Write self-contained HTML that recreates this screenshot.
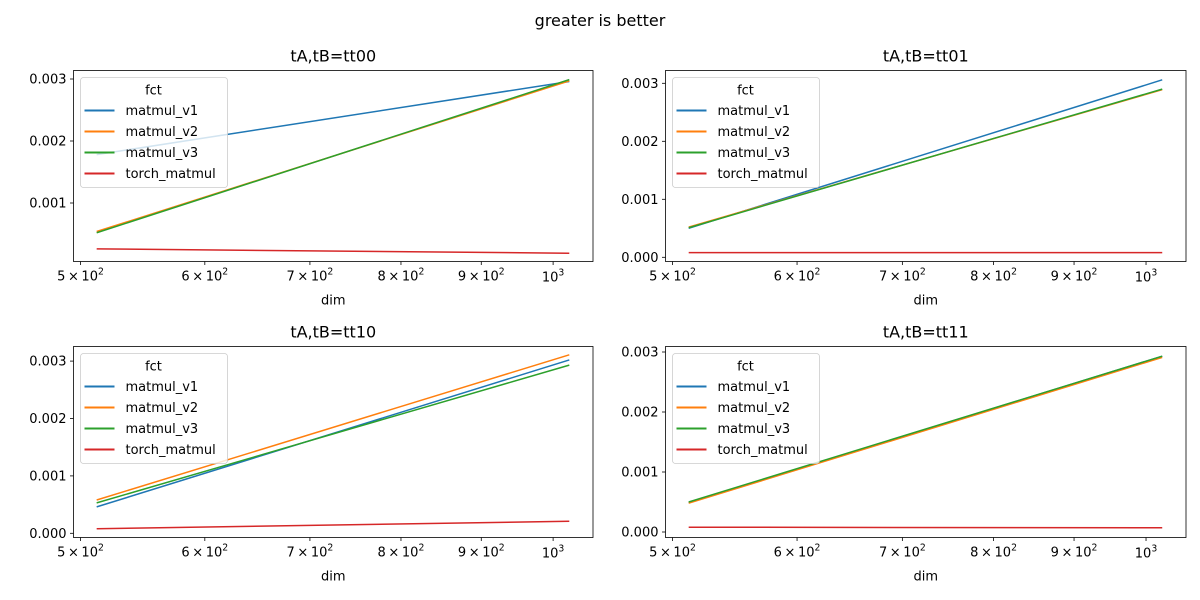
<!DOCTYPE html>
<html><head><meta charset="utf-8"><style>
html,body{margin:0;padding:0;background:#fff;}
svg{display:block;font-family:"DejaVu Sans","Liberation Sans",sans-serif;}
</style></head><body>
<svg id="s" width="1200" height="600" viewBox="0 0 1200 600" xmlns="http://www.w3.org/2000/svg">
<rect width="1200" height="600" fill="#fff"/>
<text x="600" y="26" font-size="16" text-anchor="middle">greater is better</text>
</svg>
<script>
const S=document.getElementById('s');
const C={v1:'#1f77b4',v2:'#ff7f0e',v3:'#2ca02c',t:'#d62728'};
function add(h){S.insertAdjacentHTML('beforeend',h);}
const panels=[
 {L:73.5,R:593,T:70.5,B:261.5,y0:265,py:62,title:'tA,tB=tt00',ticks:[1,2,3],
  d:{v1:[1.78,2.96],v2:[0.54,2.97],v3:[0.52,2.99],t:[0.26,0.19]}},
 {L:665.5,R:1186,T:70.5,B:261.5,y0:257.3,py:58,title:'tA,tB=tt01',ticks:[0,1,2,3],
  d:{v1:[0.50,3.06],v2:[0.52,2.89],v3:[0.51,2.90],t:[0.08,0.08]}},
 {L:73.5,R:593,T:346.5,B:537.5,y0:533.3,py:57.4,title:'tA,tB=tt10',ticks:[0,1,2,3],
  d:{v1:[0.46,3.02],v2:[0.58,3.11],v3:[0.53,2.93],t:[0.08,0.21]}},
 {L:665.5,R:1186,T:346.5,B:537.5,y0:532,py:60,title:'tA,tB=tt11',ticks:[0,1,2,3],
  d:{v1:[0.49,2.93],v2:[0.48,2.91],v3:[0.50,2.93],t:[0.08,0.07]}}
];
panels.forEach(p=>{
 const x500=p.L+7; const ppd=(p.R-p.L)*1570/519.5;
 const X=v=>x500+ppd*Math.log10(v/500);
 const Y=v=>p.y0-p.py*v;
 const cx=(p.L+p.R)/2;
 add(`<text x="${cx}" y="${p.T-9}" font-size="16" text-anchor="middle">${p.title}</text>`);
 for(const k of ['v1','v2','v3','t']){
  const [a,b]=p.d[k];
  add(`<line x1="${X(512)}" y1="${Y(a)}" x2="${X(1024)}" y2="${Y(b)}" stroke="${C[k]}" stroke-width="1.5"/>`);
 }
 add(`<rect x="${p.L}" y="${p.T}" width="${p.R-p.L}" height="${p.B-p.T}" fill="none" stroke="#000" stroke-width="0.8"/>`);
 p.ticks.forEach(t=>{const y=Y(t);
  add(`<line x1="${p.L-3.5}" y1="${y}" x2="${p.L}" y2="${y}" stroke="#000" stroke-width="0.8"/>`);
  add(`<text x="${p.L-7}" y="${y+4.6}" font-size="13" text-anchor="end">0.00${t}</text>`);});
 [5,6,7,8,9].forEach(m=>{const x=X(m*100);
  add(`<line x1="${x}" y1="${p.B}" x2="${x}" y2="${p.B+3.5}" stroke="#000" stroke-width="0.8"/>`);
  add(`<text x="${x}" y="${p.B+19}" font-size="13" text-anchor="middle">${m}\u2009×\u200910<tspan dy="-6" font-size="9.3">2</tspan></text>`);});
 {const x=X(1000);
  add(`<line x1="${x}" y1="${p.B}" x2="${x}" y2="${p.B+3.5}" stroke="#000" stroke-width="0.8"/>`);
  add(`<text x="${x}" y="${p.B+20}" font-size="13" text-anchor="middle">10<tspan dy="-6" font-size="9.3">3</tspan></text>`);}
 add(`<text x="${cx}" y="${p.B+43}" font-size="13" text-anchor="middle">dim</text>`);
 const lx=p.L+7, ly=p.T+7;
 add(`<rect x="${lx}" y="${ly}" width="147" height="110" rx="3" fill="#fff" fill-opacity="0.8" stroke="#ccc" stroke-width="0.8"/>`);
 add(`<text x="${lx+73}" y="${ly+17}" font-size="13" text-anchor="middle">fct</text>`);
 [['v1','matmul_v1'],['v2','matmul_v2'],['v3','matmul_v3'],['t','torch_matmul']].forEach((e,i)=>{
  const y=ly+33+i*21;
  add(`<line x1="${lx+4}" y1="${y}" x2="${lx+34}" y2="${y}" stroke="${C[e[0]]}" stroke-width="2"/>`);
  add(`<text x="${lx+45}" y="${y+4.6}" font-size="13">${e[1]}</text>`);
 });
});
</script>
</body></html>
